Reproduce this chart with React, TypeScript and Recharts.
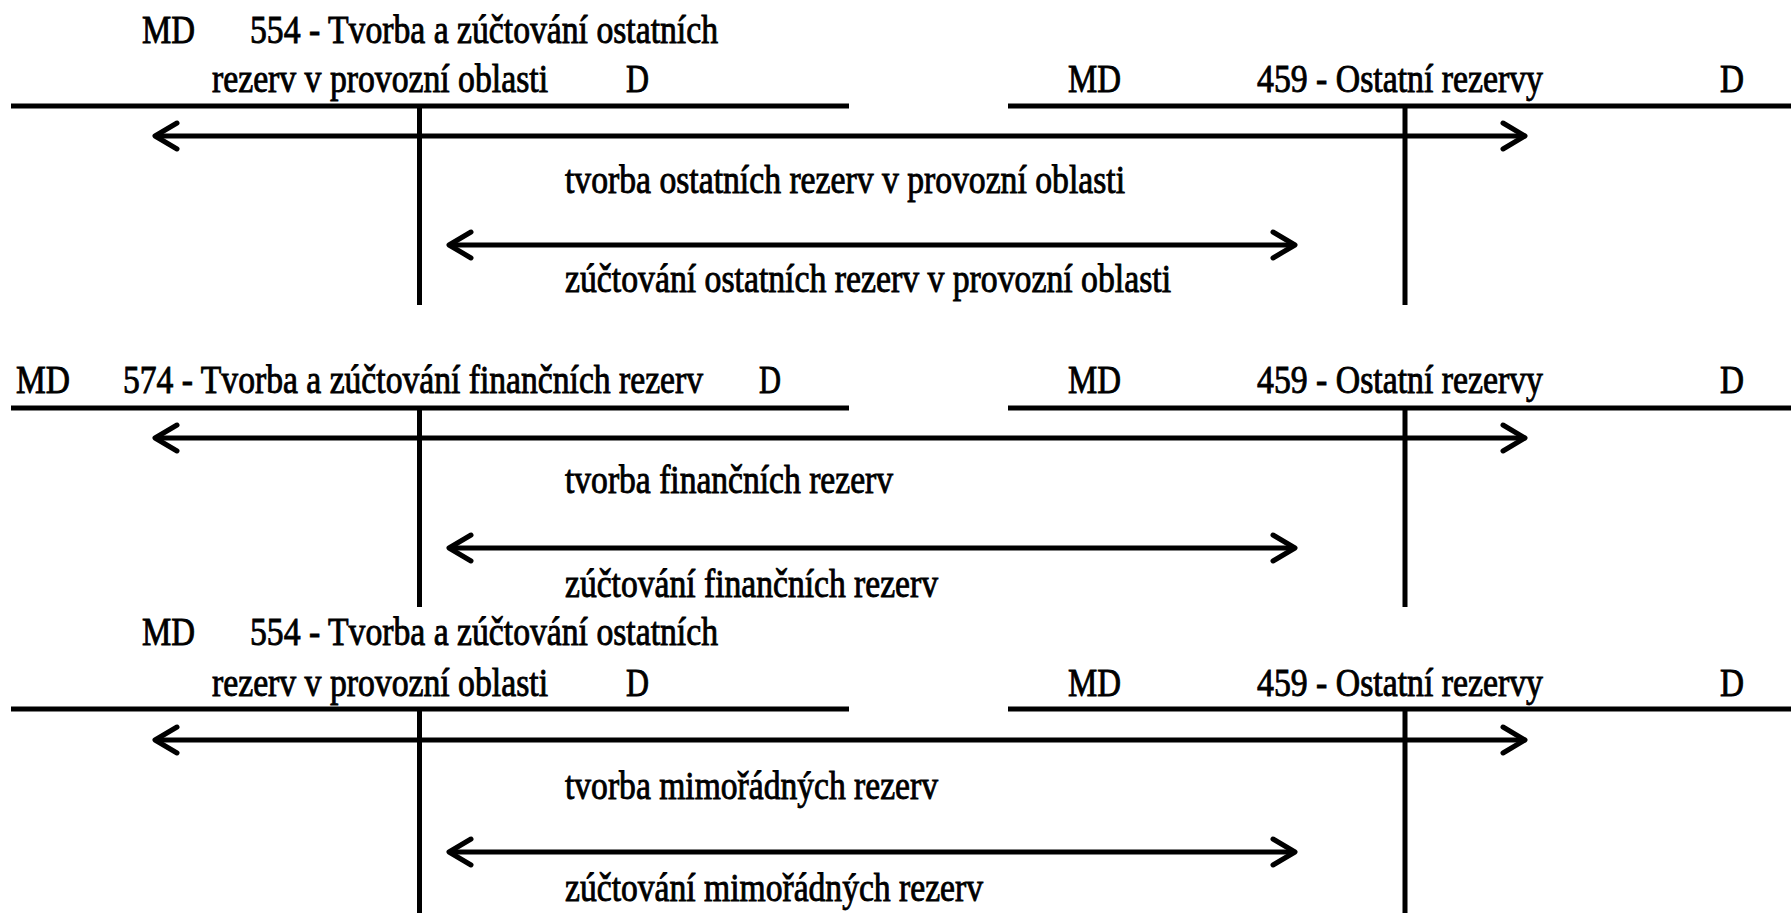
import { ComposedChart, XAxis, YAxis, ReferenceLine, ReferenceDot } from 'recharts';

const W = 1791;
const H = 913;

// texty tří dvojic účtů (shora dolů)
const leftTitleTop = ['554 - Tvorba a zúčtování ostatních', '', '554 - Tvorba a zúčtování ostatních'];
const leftTitleBottom = ['rezerv v provozní oblasti', '574 - Tvorba a zúčtování finančních rezerv', 'rezerv v provozní oblasti'];
const rightTitle = ['459 - Ostatní rezervy', '459 - Ostatní rezervy', '459 - Ostatní rezervy'];
const creationLabels = [
  'tvorba ostatních rezerv v provozní oblasti',
  'tvorba finančních rezerv',
  'tvorba mimořádných rezerv',
];
const settlementLabels = [
  'zúčtování ostatních rezerv v provozní oblasti',
  'zúčtování finančních rezerv',
  'zúčtování mimořádných rezerv',
];

// svislé hodnoty na ose y (0 = nahoře)
const titleTopY = [43, 0, 645];
const titleBottomY = [92, 393, 696];
const ruleY = [106, 408, 709];
const creationArrowY = [136, 438, 740];
const creationTextY = [193, 493, 799];
const settlementArrowY = [245, 548, 852];
const settlementTextY = [292, 597, 901];
const stemEndY = [305, 607, 913];

// vodorovné hodnoty na ose x
const leftRule = [11, 849];
const rightRule = [1008, 1791];
const leftStemX = 419.5;
const rightStemX = 1405;
const creationArrowX = [153, 1527];
const settlementArrowX = [447, 1297];
const bodyTextX = 565;

// šířky textů (jednotky osy x)
const creationTextW = [560, 328, 373];
const settlementTextW = [606, 373, 418];

type Label = { text: string; x: number; y: number; w: number };

const labels: Label[] = [];
[0, 1, 2].forEach((i) => {
  if (i === 1) {
    labels.push({ text: 'MD', x: 16, y: titleBottomY[i], w: 54 });
    labels.push({ text: leftTitleBottom[i], x: 123, y: titleBottomY[i], w: 580 });
    labels.push({ text: 'D', x: 759, y: titleBottomY[i], w: 22 });
  } else {
    labels.push({ text: 'MD', x: 142, y: titleTopY[i], w: 53 });
    labels.push({ text: leftTitleTop[i], x: 250, y: titleTopY[i], w: 468 });
    labels.push({ text: leftTitleBottom[i], x: 212, y: titleBottomY[i], w: 336 });
    labels.push({ text: 'D', x: 626, y: titleBottomY[i], w: 23 });
  }
  labels.push({ text: 'MD', x: 1068, y: titleBottomY[i], w: 53 });
  labels.push({ text: rightTitle[i], x: 1257, y: titleBottomY[i], w: 286 });
  labels.push({ text: 'D', x: 1720, y: titleBottomY[i], w: 24 });
  labels.push({ text: creationLabels[i], x: bodyTextX, y: creationTextY[i], w: creationTextW[i] });
  labels.push({ text: settlementLabels[i], x: bodyTextX, y: settlementTextY[i], w: settlementTextW[i] });
});

const FONT = 'Liberation Serif, Times New Roman, DejaVu Serif, serif';
const SX = 0.8; // zúžené písmo

const DoubleArrow = (p: any) => {
  const { x1, y1, x2, y2 } = p;
  const hx = 22;
  const hy = 13;
  const a = x1 + 2;
  const b = x2 - 2;
  return (
    <g stroke="#000" fill="none">
      <line x1={a} y1={y1} x2={b} y2={y2} strokeWidth={5} />
      <polyline
        points={`${a + hx},${y1 - hy} ${a},${y1} ${a + hx},${y1 + hy}`}
        strokeWidth={5}
        strokeLinecap="round"
        strokeLinejoin="round"
      />
      <polyline
        points={`${b - hx},${y2 - hy} ${b},${y2} ${b - hx},${y2 + hy}`}
        strokeWidth={5}
        strokeLinecap="round"
        strokeLinejoin="round"
      />
    </g>
  );
};

const textShape = (l: Label) => (p: any) => (
  <text
    transform={`translate(${p.cx},${p.cy}) scale(${SX},1)`}
    x={0}
    y={0}
    textLength={l.w / SX}
    lengthAdjust="spacingAndGlyphs"
    style={{ fontFamily: FONT }}
    fontSize={39}
    fill="#000"
    stroke="#000"
    strokeWidth={0.9}
  >
    {l.text}
  </text>
);

export default function App() {
  return (
    <div style={{ position: 'absolute', left: 0, top: 0, background: '#fff' }}>
      <ComposedChart width={W} height={H} data={[]} margin={{ top: 0, right: 0, bottom: 0, left: 0 }}>
        <XAxis type="number" dataKey="x" domain={[0, W]} hide allowDataOverflow />
        <YAxis type="number" dataKey="y" domain={[0, H]} reversed hide allowDataOverflow />
        {[0, 1, 2].map((i) => (
          <ReferenceLine
            key={`lr${i}`}
            segment={[{ x: leftRule[0], y: ruleY[i] }, { x: leftRule[1], y: ruleY[i] }]}
            stroke="#000"
            strokeWidth={5}
            ifOverflow="visible"
          />
        ))}
        {[0, 1, 2].map((i) => (
          <ReferenceLine
            key={`rr${i}`}
            segment={[{ x: rightRule[0], y: ruleY[i] }, { x: rightRule[1], y: ruleY[i] }]}
            stroke="#000"
            strokeWidth={5}
            ifOverflow="visible"
          />
        ))}
        {[0, 1, 2].map((i) => (
          <ReferenceLine
            key={`ls${i}`}
            segment={[{ x: leftStemX, y: ruleY[i] }, { x: leftStemX, y: stemEndY[i] }]}
            stroke="#000"
            strokeWidth={5}
            ifOverflow="visible"
          />
        ))}
        {[0, 1, 2].map((i) => (
          <ReferenceLine
            key={`rs${i}`}
            segment={[{ x: rightStemX, y: ruleY[i] }, { x: rightStemX, y: stemEndY[i] }]}
            stroke="#000"
            strokeWidth={5}
            ifOverflow="visible"
          />
        ))}
        {[0, 1, 2].map((i) => (
          <ReferenceLine
            key={`ca${i}`}
            segment={[{ x: creationArrowX[0], y: creationArrowY[i] }, { x: creationArrowX[1], y: creationArrowY[i] }]}
            shape={DoubleArrow}
            ifOverflow="visible"
          />
        ))}
        {[0, 1, 2].map((i) => (
          <ReferenceLine
            key={`sa${i}`}
            segment={[{ x: settlementArrowX[0], y: settlementArrowY[i] }, { x: settlementArrowX[1], y: settlementArrowY[i] }]}
            shape={DoubleArrow}
            ifOverflow="visible"
          />
        ))}
        {labels.map((l, k) => (
          <ReferenceDot key={`t${k}`} x={l.x} y={l.y} r={0} ifOverflow="visible" shape={textShape(l)} />
        ))}
      </ComposedChart>
    </div>
  );
}
